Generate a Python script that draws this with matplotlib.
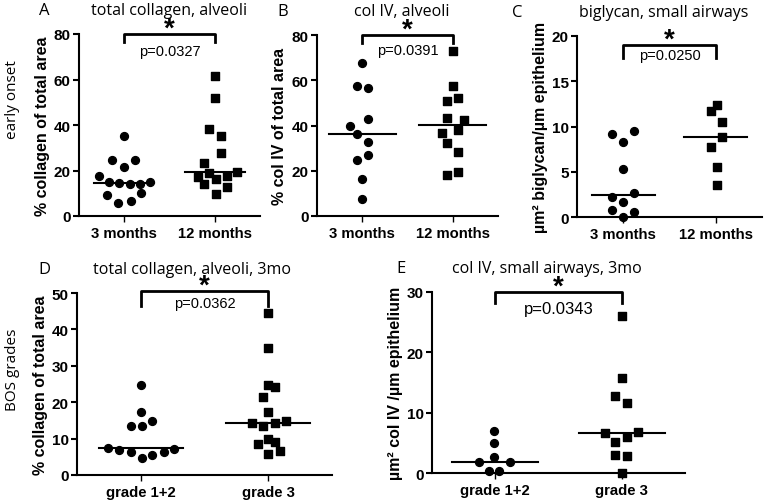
import matplotlib
matplotlib.use('Agg')
import matplotlib.pyplot as plt
import numpy as np

plt.rcParams['font.family'] = ['Liberation Sans', 'DejaVu Sans']

# A - total collagen, alveoli
a_3m = [35.1, 24.7, 24.4, 21.4, 17.4, 14.9, 14.5, 14.2, 14.2, 14.9, 9.1, 10.1, 5.9, 6.7]
a_3m_jit = [0, -0.13, 0.12, 0, -0.28, -0.17, -0.06, 0.06, 0.17, 0.29, -0.19, 0.19, -0.07, 0.07]
a_12m = [61.6, 51.8, 38.2, 35.0, 27.8, 23.4, 19.0, 19.3, 17.1, 17.8, 16.1, 14.2, 12.6, 9.7]
a_12m_jit = [0, 0, -0.06, 0.07, 0.07, -0.12, -0.06, 0.25, -0.18, 0.13, 0.01, -0.12, 0.13, 0.01]

# B - col IV, alveoli
b_3m = [67.5, 57.4, 56.5, 42.8, 40.0, 36.3, 32.9, 26.8, 24.9, 16.5, 7.6]
b_3m_jit = [0, -0.06, 0.06, 0.06, -0.13, -0.06, 0.06, 0.06, -0.06, 0, 0]
b_12m = [72.8, 57.6, 52.2, 50.7, 43.2, 42.6, 38.1, 36.6, 32.4, 28.5, 19.3, 18.2]
b_12m_jit = [0, 0, 0.06, -0.06, -0.06, 0.12, 0.06, -0.12, -0.06, 0.06, 0.06, -0.06]

# C - biglycan, small airways
c_3m = [9.2, 9.5, 8.3, 5.3, 2.2, 2.6, 1.7, 0.8, 0.6, 0.0]
c_3m_jit = [-0.12, 0.12, 0, 0, -0.12, 0.12, 0, -0.12, 0.12, 0]
c_12m = [12.4, 11.7, 10.5, 8.8, 7.7, 5.5, 3.5]
c_12m_jit = [0.01, -0.05, 0.07, 0.07, -0.05, 0.01, 0.01]

# D - total collagen, alveoli, 3mo (BOS grades)
d_g12 = [24.7, 17.2, 13.5, 13.5, 14.8, 7.5, 7.0, 6.2, 4.8, 5.4, 6.2, 7.2]
d_g12_jit = [0, 0, -0.08, 0.01, 0.09, -0.26, -0.17, -0.08, 0.01, 0.09, 0.18, 0.26]
d_g3 = [44.5, 35.0, 24.8, 24.2, 21.5, 17.2, 14.2, 13.5, 14.2, 14.9, 9.8, 8.5, 9.0, 6.5, 5.8]
d_g3_jit = [0, 0, 0, 0.05, -0.04, 0, -0.13, -0.04, 0.05, 0.14, 0, -0.08, 0.05, 0.09, 0]

# E - col IV, small airways, 3mo
e_g12 = [6.9, 4.9, 2.6, 1.9, 1.9, 0.4, 0.3]
e_g12_jit = [-0.01, -0.01, -0.01, -0.13, 0.12, -0.05, 0.03]
e_g3 = [26.1, 15.7, 12.7, 11.6, 6.8, 6.6, 5.9, 5.2, 3.0, 2.8, 0.0]
e_g3_jit = [0, 0, -0.05, 0.04, 0.13, -0.13, 0.04, -0.05, -0.05, 0.04, 0]

months = ['3 months', '12 months']
grades = ['grade 1+2', 'grade 3']


def scatter_panel(ax, g1, j1, g2, j2, cats, ylim, yticks, ylabel, half=0.34):
    x1 = 1 + np.array(j1)
    x2 = 2 + np.array(j2)
    ax.scatter(x1, g1, marker='o', s=32, color='black', clip_on=False, zorder=3)
    ax.scatter(x2, g2, marker='s', s=28, color='black', clip_on=False, zorder=3)
    # median lines
    ax.plot([1 - half, 1 + half], [np.median(g1)] * 2, color='black', lw=1.5)
    ax.plot([2 - half, 2 + half], [np.median(g2)] * 2, color='black', lw=1.5)

    ax.set_xlim(0.5, 2.5)
    ax.set_ylim(*ylim)
    ax.set_yticks(yticks)
    ax.set_xticks([1, 2])
    ax.set_xticklabels(cats, fontsize=10.7, fontweight='bold')
    for lab in ax.get_yticklabels():
        lab.set_fontweight('bold')
        lab.set_fontsize(11)
    ax.set_ylabel(ylabel, fontsize=11.5, fontweight='bold', labelpad=3)
    ax.spines['top'].set_visible(False)
    ax.spines['right'].set_visible(False)
    ax.spines['left'].set_linewidth(1.5)
    ax.spines['bottom'].set_linewidth(1.5)
    ax.tick_params(axis='y', width=1.5, length=4, pad=2)
    ax.tick_params(axis='x', width=1.0, length=4, pad=3)


def bracket(ax, y_top, y_leg, y_p, ptext, pfs=10.5):
    ax.plot([1, 1, 2, 2], [y_leg, y_top, y_top, y_leg], color='black', lw=2, clip_on=False)
    # star sits ~8 px above the bracket
    ax.annotate('*', xy=(1.5, y_top), xytext=(0, -1.2), textcoords='offset points',
                ha='center', va='baseline', fontsize=20, fontweight='bold',
                annotation_clip=False)
    ax.text(1.5, y_p, ptext, ha='center', va='center', fontsize=pfs)


def title(ax, letter, text, lx, tx=0.5, fs=11.5):
    ax.text(tx, 1.09, text, transform=ax.transAxes, ha='center', va='bottom',
            fontsize=fs, family='Open Sans')
    ax.text(lx, 1.09, letter, transform=ax.transAxes, ha='left', va='bottom',
            fontsize=12, family='Open Sans')


fig = plt.figure(figsize=(7.66, 5.02), dpi=100)
W, H = 766.0, 502.0

axA = fig.add_axes([79 / W, 1 - 217 / H, 181 / W, 182 / H])
axB = fig.add_axes([317 / W, 1 - 217 / H, 181 / W, 181 / H])
axC = fig.add_axes([577 / W, 1 - 218 / H, 185 / W, 181 / H])
axD = fig.add_axes([77 / W, 1 - 476 / H, 255 / W, 182 / H])
axE = fig.add_axes([432 / W, 1 - 474 / H, 253 / W, 181 / H])

scatter_panel(axA, a_3m, a_3m_jit, a_12m, a_12m_jit, months, (0, 80), [0, 20, 40, 60, 80],
              '% collagen of total area', half=0.33)
bracket(axA, 80, 76.5, 72.5, 'p=0.0327')
title(axA, 'A', 'total collagen, alveoli', -0.22)

scatter_panel(axB, b_3m, b_3m_jit, b_12m, b_12m_jit, months, (0, 80), [0, 20, 40, 60, 80],
              '% col IV of total area', half=0.37)
bracket(axB, 80, 76.5, 73.5, 'p=0.0391')
title(axB, 'B', 'col IV, alveoli', -0.22, tx=0.47)

scatter_panel(axC, c_3m, c_3m_jit, c_12m, c_12m_jit, months, (0, 20), [0, 5, 10, 15, 20],
              'µm² biglycan/µm epithelium', half=0.34)
bracket(axC, 19.0, 17.6, 17.9, 'p=0.0250')
title(axC, 'C', 'biglycan, small airways', -0.35, tx=0.47)

scatter_panel(axD, d_g12, d_g12_jit, d_g3, d_g3_jit, grades, (0, 50), [0, 10, 20, 30, 40, 50],
              '% collagen of total area', half=0.33)
bracket(axD, 50.5, 46.5, 47.2, 'p=0.0362')
title(axD, 'D', 'total collagen, alveoli, 3mo', -0.15, tx=0.45)

scatter_panel(axE, e_g12, e_g12_jit, e_g3, e_g3_jit, grades, (0, 30), [0, 10, 20, 30],
              'µm² col IV /µm epithelium', half=0.34)
bracket(axE, 30, 28.2, 27.3, 'p=0.0343', pfs=12)
title(axE, 'E', 'col IV, small airways, 3mo', -0.14, tx=0.455)

# row labels
fig.text(13 / W, 1 - 100 / H, 'early onset', rotation=90, ha='center', va='center',
         fontsize=11, family='Open Sans')
fig.text(13 / W, 1 - 370 / H, 'BOS grades', rotation=90, ha='center', va='center',
         fontsize=11, family='Open Sans')

plt.savefig('out.png', dpi=100)
